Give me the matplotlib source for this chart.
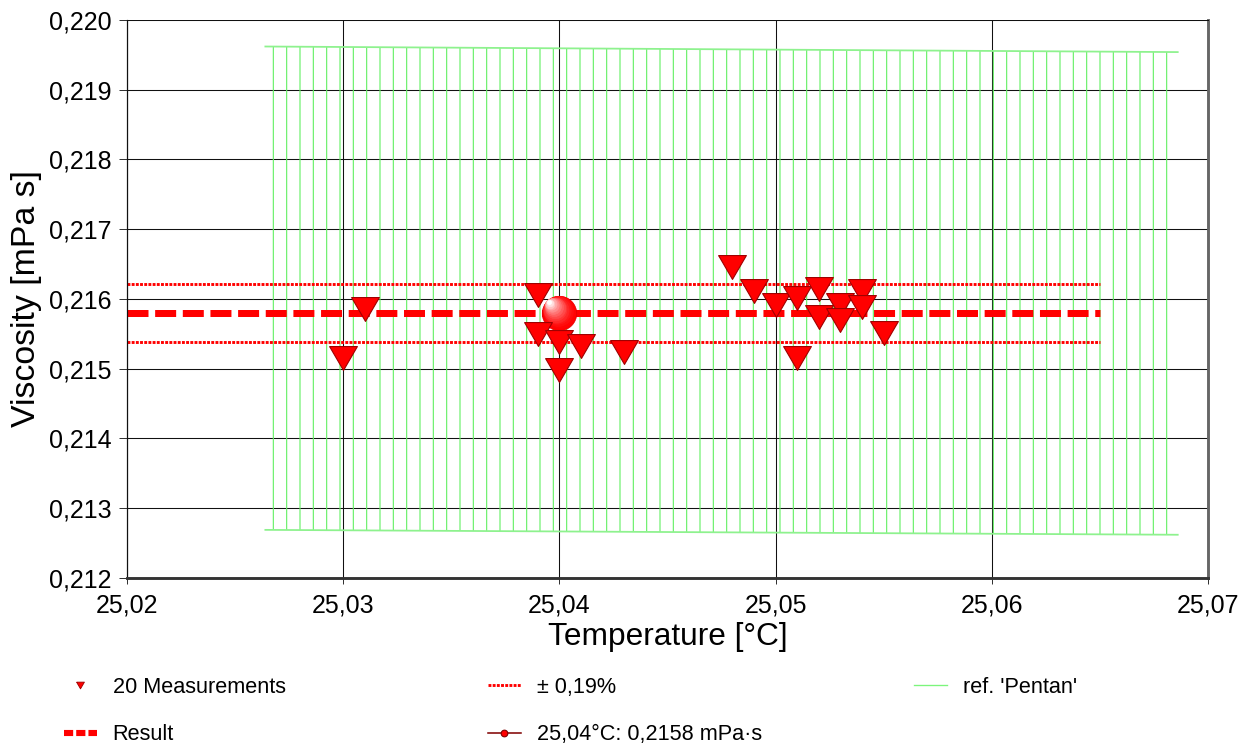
import matplotlib
matplotlib.use("Agg")
import matplotlib.pyplot as plt
import numpy as np
from matplotlib.lines import Line2D
from matplotlib.ticker import FuncFormatter, MultipleLocator
from matplotlib.transforms import offset_copy

# measured points: temperature [°C] / viscosity [mPa s]
temps = [25.030, 25.031, 25.039, 25.039, 25.040, 25.040, 25.041, 25.043,
         25.048, 25.049, 25.050, 25.051, 25.051, 25.052, 25.052, 25.053,
         25.053, 25.054, 25.054, 25.055]
visc = [0.21515, 0.21586, 0.21606, 0.21550, 0.21538, 0.21498, 0.21533, 0.21524,
        0.21646, 0.21611, 0.21592, 0.21601, 0.21516, 0.21614, 0.21574, 0.21592,
        0.21570, 0.21612, 0.21589, 0.21551]

result_temp = 25.04
result_visc = 0.2158
tol_pct = 0.19
result_span = [25.02, 25.065]

# reference band for Pentan
ref_temp = [25.0264, 25.0686]
ref_upper = [0.21962, 0.21954]
ref_lower = [0.21269, 0.21262]

DPI = 80
RED = "#ff0000"
GREEN = "#62f062"

plt.rcParams["font.family"] = ["Liberation Sans", "DejaVu Sans"]
plt.rcParams["hatch.linewidth"] = 1.0

fig = plt.figure(figsize=(1243 / DPI, 747 / DPI), dpi=DPI)
ax = fig.add_axes([127 / 1243, 1 - 578 / 747, (1208 - 127) / 1243, (578 - 20) / 747])

# reference band: vertical hatching with light boundary lines
ax.fill_between(ref_temp, ref_lower, ref_upper, facecolor="none",
                edgecolor=GREEN, hatch="|", linewidth=0, zorder=1)
ax.plot(ref_temp, ref_upper, color="#8ef28e", lw=1.6, zorder=1.5)
ax.plot(ref_temp, ref_lower, color="#8ef28e", lw=1.6, zorder=1.5)

# result and tolerance lines
upper = result_visc * (1 + tol_pct / 100)
lower = result_visc * (1 - tol_pct / 100)
ax.plot(result_span, [upper, upper], color=RED, lw=2.6, dashes=(1, 0.45), zorder=2)
ax.plot(result_span, [lower, lower], color=RED, lw=2.6, dashes=(1, 0.45), zorder=2)
ax.plot(result_span, [result_visc, result_visc], color=RED, lw=6.3,
        dashes=(3.0, 0.95), zorder=2)

# shaded ball for the result point
n = 14
for i, t in enumerate(np.linspace(0, 1, n)):
    size = 31 * (1 - 0.88 * t)
    mix = t ** 1.6
    col = (1.0, mix, mix)
    tr = offset_copy(ax.transData, fig=fig, x=-9.5 * t, y=10 * t, units="points")
    ax.plot([result_temp], [result_visc], "o", ms=size, color=col,
            mec=col if i else "#e00000", mew=0.6, transform=tr, zorder=3)

# measurements as downward triangles
tri = [(-1, 0.86), (1, 0.86), (0, -0.86), (-1, 0.86)]
ax.plot(temps, visc, ls="none", marker=tri, ms=25, mfc=RED, mec="#a00000",
        mew=1.0, zorder=4)

ax.set_xlim(25.02, 25.07)
ax.set_ylim(0.212, 0.220)
ax.xaxis.set_major_locator(MultipleLocator(0.01))
ax.yaxis.set_major_locator(MultipleLocator(0.001))
ax.xaxis.set_major_formatter(FuncFormatter(lambda v, p: f"{v:.2f}".replace(".", ",")))
ax.yaxis.set_major_formatter(FuncFormatter(lambda v, p: f"{v:.3f}".replace(".", ",")))

ax.set_axisbelow(True)
ax.grid(True, color="#111111", lw=0.95)
ax.tick_params(axis="y", direction="out", length=7, width=0.9, pad=7,
               labelsize=22.5, color="#333333")
ax.tick_params(axis="x", direction="out", length=5, width=0.9, pad=9,
               labelsize=22.5, color="#333333")

ax.spines["left"].set_color("#111111")
ax.spines["left"].set_linewidth(1.1)
ax.spines["top"].set_color("#111111")
ax.spines["top"].set_linewidth(0.9)
ax.spines["bottom"].set_color("#333333")
ax.spines["bottom"].set_linewidth(2.6)
ax.spines["right"].set_color("#666666")
ax.spines["right"].set_linewidth(2.6)

ax.set_xlabel("Temperature [°C]", fontsize=28.5, labelpad=4)
ax.set_ylabel("Viscosity [mPa s]", fontsize=30.5, labelpad=6)

# legend, three columns placed below the plot
h_meas = Line2D([], [], ls="none", marker=tri, ms=7, mfc=RED, mec="#a00000", mew=0.8)
h_res = Line2D([], [], color=RED, lw=5.5, dashes=(1.5, 0.5))
h_tol = Line2D([], [], color=RED, lw=2.6, dashes=(1, 0.45))
h_pt = Line2D([], [], color="#800000", lw=1.4, marker="o", ms=6, mfc=RED, mec="#800000")
h_ref = Line2D([], [], color="#7cf57c", lw=1.2)

leg_kw = dict(loc="upper left", frameon=False, fontsize=19.5, borderpad=0,
              borderaxespad=0, handlelength=1.5, handletextpad=0.75,
              labelspacing=1.22)
top = 1 - 677 / 747
fig.legend([h_meas, h_res], ["20 Measurements", "Result"],
           bbox_to_anchor=(64 / 1243, top), **leg_kw)
fig.legend([h_tol, h_pt], ["± 0,19%", "25,04°C: 0,2158 mPa·s"],
           bbox_to_anchor=(488 / 1243, top), **leg_kw)
fig.legend([h_ref], ["ref. 'Pentan'"],
           bbox_to_anchor=(914 / 1243, top), **leg_kw)

fig.savefig("out.png", dpi=DPI)
